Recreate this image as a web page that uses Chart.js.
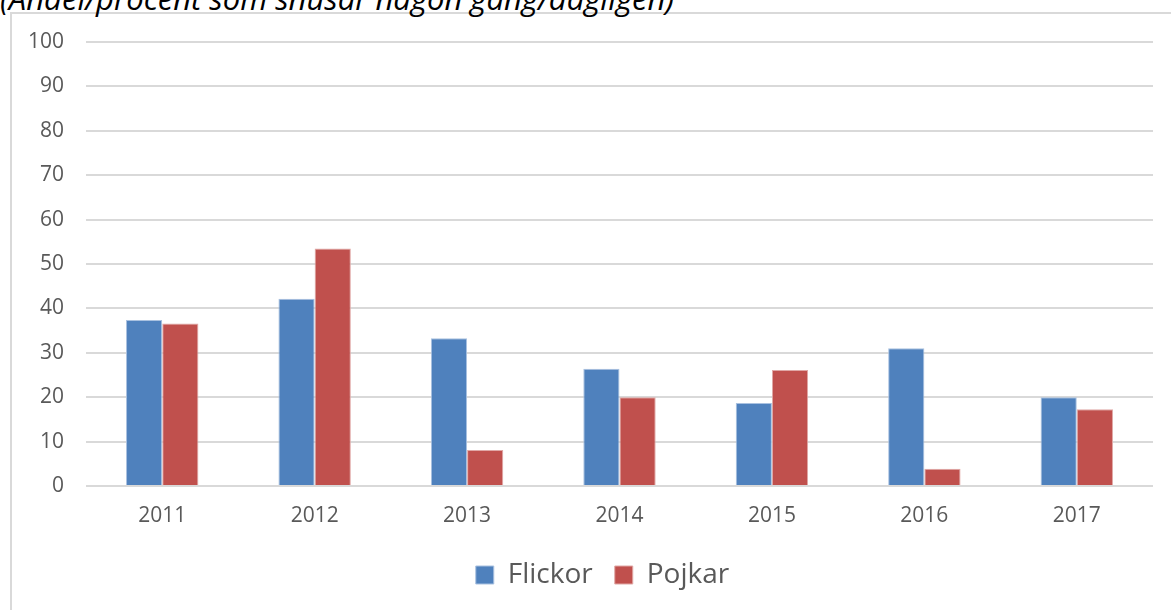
<!DOCTYPE html>
<html>
<head>
<meta charset="utf-8">
<script src="https://cdn.jsdelivr.net/npm/chart.js@4"></script>
<style>
  html, body { margin: 0; padding: 0; background: #fff; overflow: hidden; }
  #wrap { position: relative; width: 1171px; height: 610px; }
  #frame { position: absolute; left: 10px; top: 12px; width: 1200px; height: 700px;
           border: 2px solid #d9d9d9; box-sizing: border-box; }
  #title { position: absolute; left: 0; top: -23px; font-family: "Open Sans", sans-serif;
           font-style: italic; font-size: 31px; color: #000; white-space: nowrap; }
  #chart { position: absolute; left: 0; top: 0; }
</style>
</head>
<body>
<div id="wrap">
  <div id="frame"></div>
  <div id="title">(Andel/procent som snusar någon gång/dagligen)</div>
  <canvas id="chart" width="1171" height="610"></canvas>
</div>
<script>
const years = ['2011', '2012', '2013', '2014', '2015', '2016', '2017'];
const flickor = [37.4, 42.2, 33.3, 26.4, 18.7, 31.0, 20.0];
const pojkar = [36.6, 53.5, 8.1, 20.0, 26.1, 3.9, 17.3];
const yTicks = [0, 10, 20, 30, 40, 50, 60, 70, 80, 90, 100];

// legend sits a bit right of the canvas centre in the original
const legendShift = {
  id: 'legendShift',
  afterLayout(chart) {
    chart.legend.left += 26;
    chart.legend.right += 26;
  }
};

const ctx = document.getElementById('chart').getContext('2d');
new Chart(ctx, {
  type: 'bar',
  data: {
    labels: years,
    datasets: [{
      label: 'Flickor',
      data: flickor,
      backgroundColor: '#4f81bd',
      borderColor: '#a9c1e0',
      borderWidth: 1,
      barPercentage: 1,
      categoryPercentage: 0.475
    }, {
      label: 'Pojkar',
      data: pojkar,
      backgroundColor: '#c0504d',
      borderColor: '#e0a8a6',
      borderWidth: 1,
      barPercentage: 1,
      categoryPercentage: 0.475
    }]
  },
  options: {
    responsive: false,
    animation: false,
    layout: {
      padding: { left: 0, right: 18, top: 42, bottom: 11 }
    },
    scales: {
      x: {
        grid: { display: false },
        border: { display: false },
        ticks: {
          color: '#595959',
          font: { family: 'Open Sans', size: 21 },
          padding: 9
        },
        afterFit: (scale) => { scale.height = 53; }
      },
      y: {
        min: 0,
        max: 100,
        afterBuildTicks: (scale) => { scale.ticks = yTicks.map(v => ({ value: v })); },
        grid: { color: '#d9d9d9', lineWidth: 2, drawTicks: false },
        border: { display: false },
        ticks: {
          color: '#595959',
          font: { family: 'Open Sans', size: 21 },
          padding: 22
        },
        afterFit: (scale) => { scale.width = 86; }
      }
    },
    plugins: {
      legend: {
        position: 'bottom',
        labels: {
          color: '#595959',
          font: { family: 'Open Sans', size: 28 },
          boxWidth: 18,
          boxHeight: 18,
          padding: 22
        }
      },
      tooltip: { enabled: false }
    }
  },
  plugins: [legendShift]
});
</script>
</body>
</html>
